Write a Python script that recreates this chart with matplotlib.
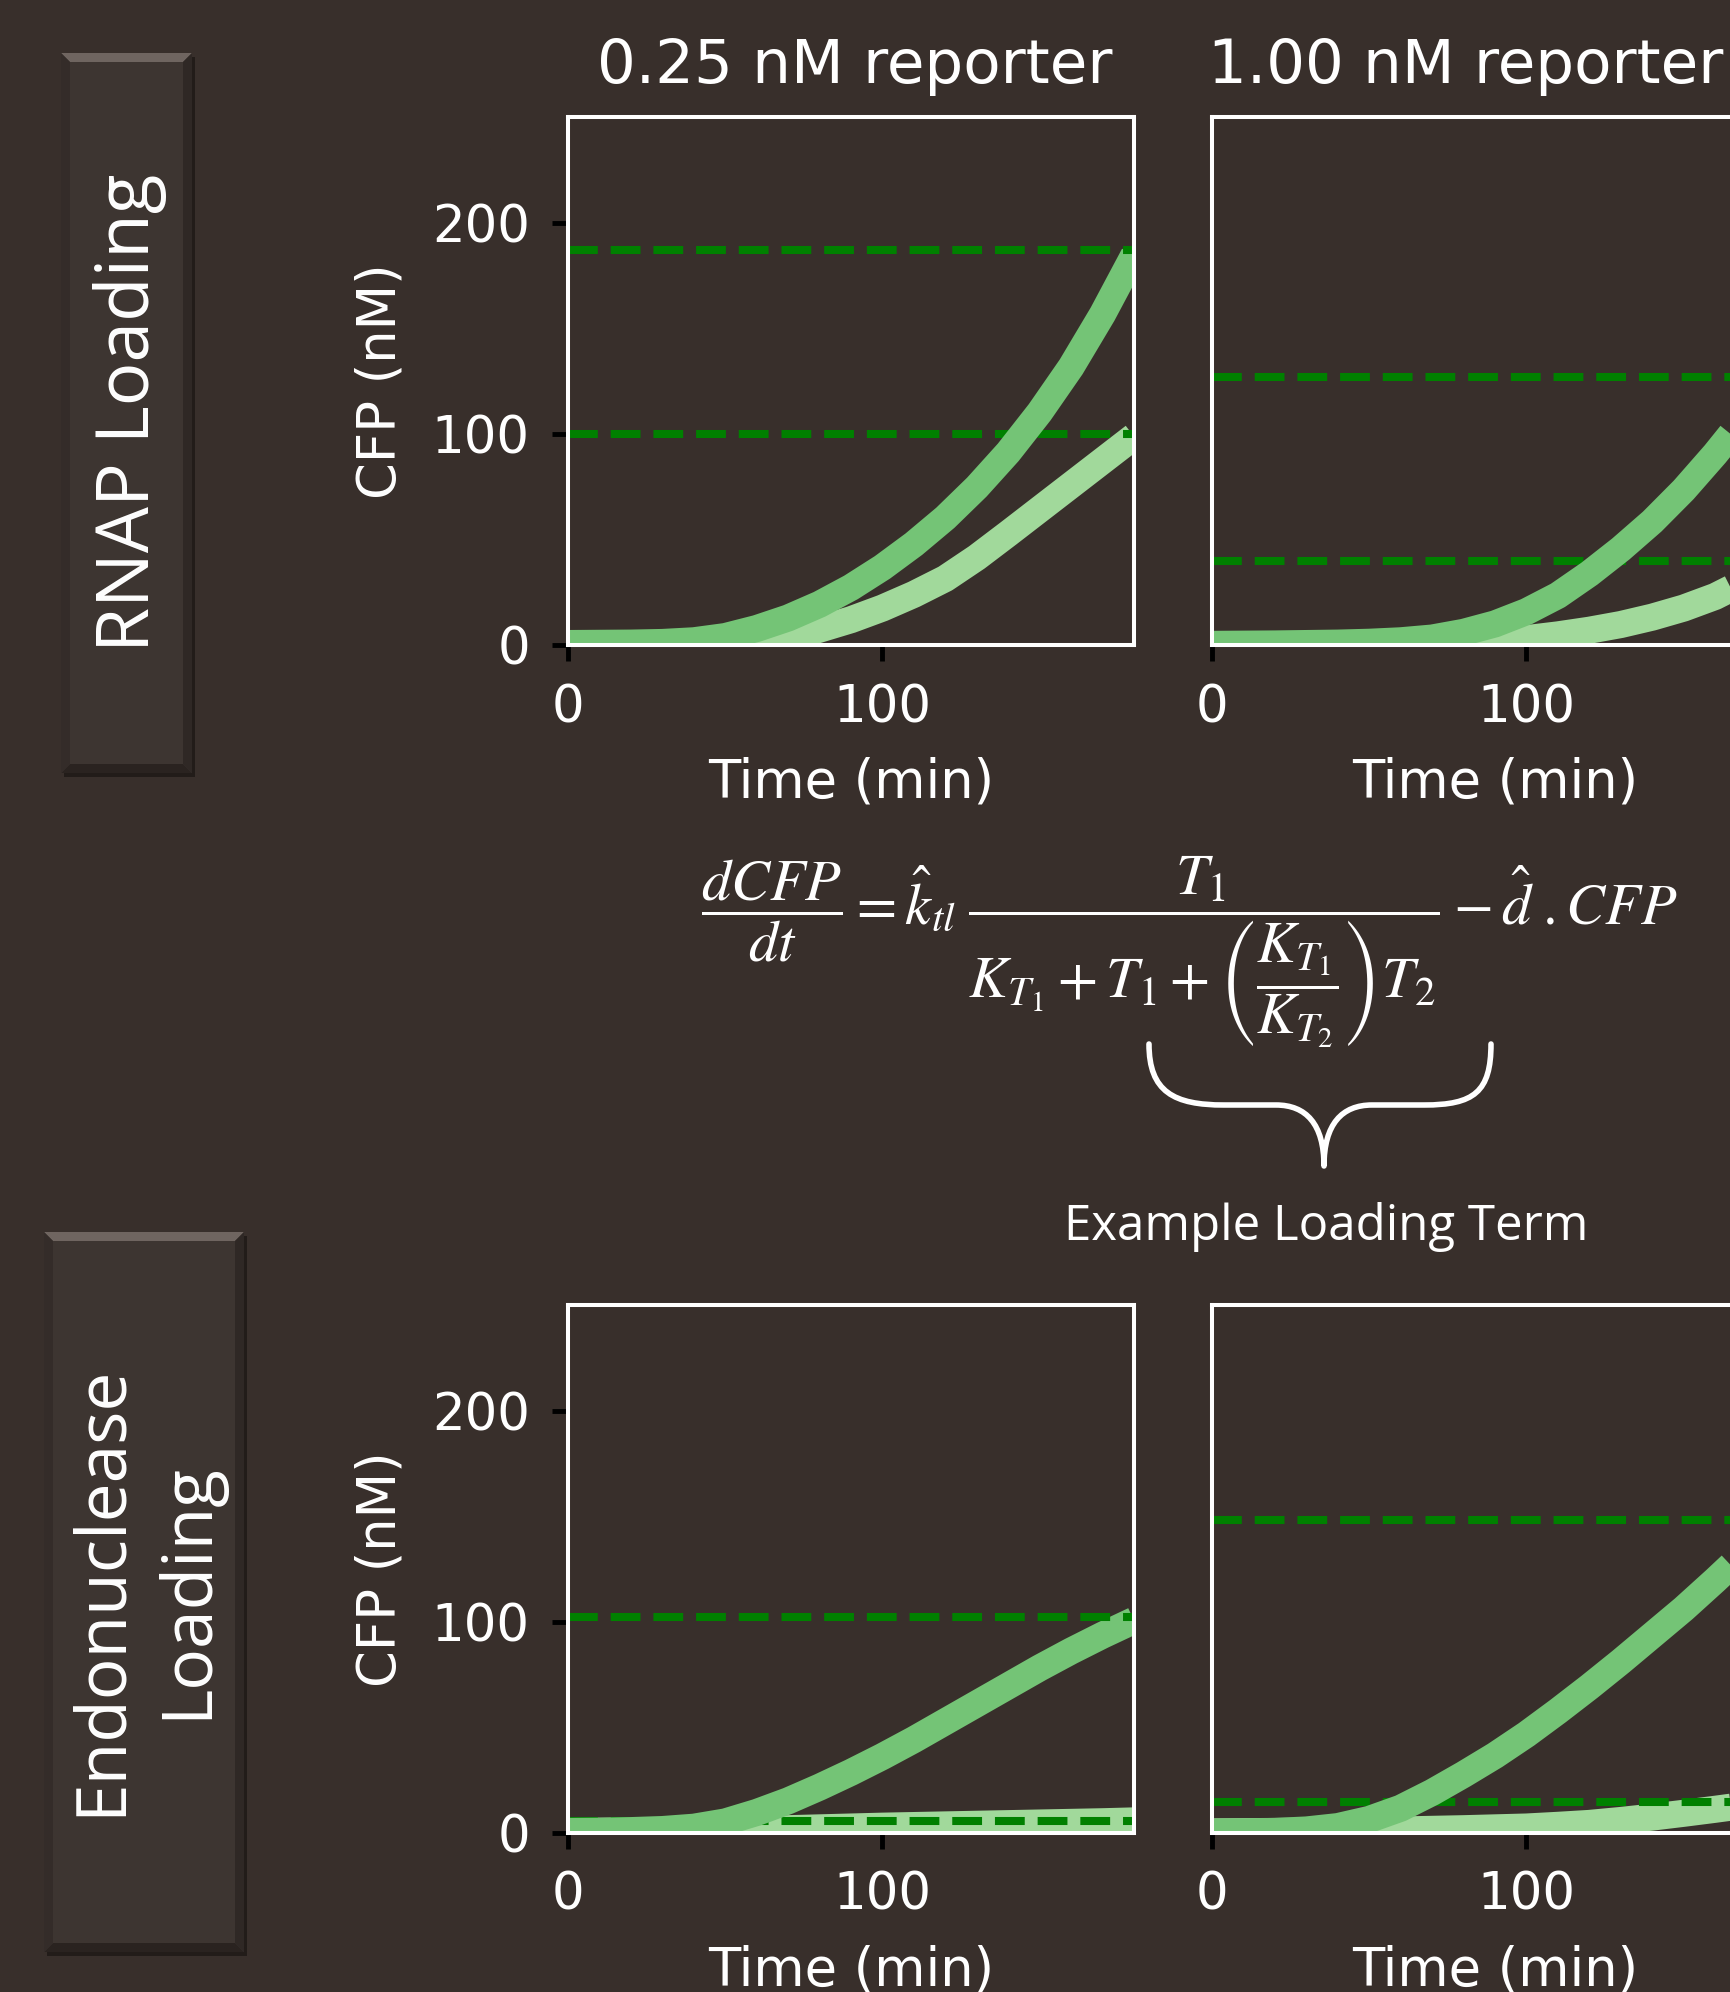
import matplotlib
matplotlib.use("Agg")
import matplotlib.pyplot as plt
from matplotlib.patches import Rectangle, Polygon, PathPatch
from matplotlib.path import Path

W, H = 1731, 1992
BG = "#382f2b"
DARK = "#74c476"
LIGHT = "#a1d99b"
DASH = "#008000"

## simulated CFP curves (nM)
time = [0, 10, 20, 30, 40, 50, 60, 70, 80, 90, 100, 110, 120, 130, 140, 150, 160, 170, 180]

rnap_025_high = [0.7, 0.8, 0.9, 1.2, 2, 4, 7.8, 12.8, 19.3, 27.3, 36.8, 47.8, 60.3, 74.8, 91.3,
                 110.3, 131.8, 156.8, 184.8]
rnap_025_low = [0, 0, 0, 0, 0, 0, 0.5, 3, 7.5, 12, 17.5, 24, 31.5, 41.5, 52.8, 64.3, 75.8, 87.3, 98.8]
rnap_100_high = [0.3, 0.4, 0.5, 0.7, 0.9, 1.3, 2, 3.3, 6, 10, 15.8, 23.5, 33.8, 45.5, 58.5, 73.5,
                 90.5, 109, 128]
rnap_100_low = [0, 0, 0, 0, 0, 0, 0, 0, 0.5, 1.5, 3, 4.8, 7, 9.7, 13.2, 17.5, 23, 30.5, 40]
endo_025_high = [0.5, 0.6, 0.9, 1.4, 2.5, 5, 9.5, 15, 21.5, 28.5, 36, 44, 52.5, 61, 69.5, 78, 86,
                 93.5, 100.5]
endo_025_low = [0.5, 0.6, 0.7, 0.8, 1, 1.2, 1.5, 1.8, 2.2, 2.6, 3, 3.3, 3.6, 3.9, 4.2, 4.5, 4.8,
                5.1, 5.5]
endo_100_high = [0.2, 0.3, 0.5, 1.2, 2.8, 6.2, 11.5, 19, 27.5, 36.5, 46.5, 57.5, 69, 81, 93.5, 106,
                 119.5, 133.5, 148]
endo_100_low = [0.3, 0.4, 0.5, 0.6, 0.8, 1, 1.2, 1.5, 1.8, 2.2, 2.6, 3.4, 4.3, 5.7, 7.3, 9.1, 11,
                13, 15]

## dashed reference levels (high, low)
rnap_025_ref = [187, 100]
rnap_100_ref = [127, 40]
endo_025_ref = [102, 5.3]
endo_100_ref = [148, 14.5]

titles = ["0.25 nM reporter", "1.00 nM reporter"]
row_labels = ["RNAP Loading", "Endonuclease\nLoading"]


def fx(x):
    return x / W


def fy(y):
    return 1 - y / H


fig = plt.figure(figsize=(W / 100, H / 100), dpi=100, facecolor=BG)

ax_w = 566 / W
ax_h = 527.5 / H
lefts = [568, 1212]
bottoms = [645, 1832.5]

panels = [
    (0, 0, rnap_025_high, rnap_025_low, rnap_025_ref),
    (0, 1, rnap_100_high, rnap_100_low, rnap_100_ref),
    (1, 0, endo_025_high, endo_025_low, endo_025_ref),
    (1, 1, endo_100_high, endo_100_low, endo_100_ref),
]

for row, col, hi, lo, ref in panels:
    ax = fig.add_axes([fx(lefts[col]), fy(bottoms[row]), ax_w, ax_h])
    ax.set_facecolor(BG)
    ax.plot(time, lo, color=LIGHT, lw=19.5, solid_capstyle="butt", solid_joinstyle="round")
    ax.axhline(ref[1], color=DASH, lw=5.8, ls="--")
    ax.plot(time, hi, color=DARK, lw=19.5, solid_capstyle="butt", solid_joinstyle="round")
    ax.axhline(ref[0], color=DASH, lw=5.8, ls="--")
    ax.set_xlim(0, 180)
    ax.set_ylim(0, 250)
    ax.set_xticks([0, 100])
    ax.set_yticks([0, 100, 200])
    for s in ax.spines.values():
        s.set_color("white")
        s.set_linewidth(2.9)
    ax.tick_params(direction="out", length=11.5, width=3.5, color="black",
                   labelcolor="white", labelsize=37, pad=16)
    ax.set_xlabel("Time (min)", color="white", fontsize=38, labelpad=17)
    if col == 0:
        ax.set_ylabel("CFP (nM)", color="white", fontsize=38, labelpad=18)
    else:
        ax.tick_params(left=False, labelleft=False)

## column titles
fig.text(fx(855), fy(83), titles[0], color="white", fontsize=44, ha="center", va="baseline")
fig.text(fx(1466), fy(83), titles[1], color="white", fontsize=44, ha="center", va="baseline")


## bevelled row label boxes
def bevel_box(x0, y0, x1, y1, b=9):
    fig.add_artist(Rectangle((fx(x0 + 3), fy(y1 + 4)), (x1 - x0) / W, (y1 - y0) / H,
                             transform=fig.transFigure, facecolor="#221c19", edgecolor="none"))
    fig.add_artist(Rectangle((fx(x0), fy(y1)), (x1 - x0) / W, (y1 - y0) / H,
                             transform=fig.transFigure, facecolor="#3d3531", edgecolor="none"))
    sides = [
        ([(x0, y0), (x1, y0), (x1 - b, y0 + b), (x0 + b, y0 + b)], "#6f6560"),
        ([(x0, y1), (x1, y1), (x1 - b, y1 - b), (x0 + b, y1 - b)], "#2a2320"),
        ([(x0, y0), (x0 + b, y0 + b), (x0 + b, y1 - b), (x0, y1)], "#342c29"),
        ([(x1, y0), (x1 - b, y0 + b), (x1 - b, y1 - b), (x1, y1)], "#2f2825"),
    ]
    for pts, c in sides:
        fig.add_artist(Polygon([(fx(px), fy(py)) for px, py in pts], closed=True,
                               transform=fig.transFigure, facecolor=c, edgecolor="none"))


bevel_box(61, 53, 192, 773)
bevel_box(44, 1232, 244, 1952)

fig.text(fx(130), fy(413), row_labels[0], color="white", fontsize=52.5, family="Open Sans",
         rotation=90, ha="center", va="center")
fig.text(fx(145), fy(1590), row_labels[1], color="white", fontsize=50, family="Open Sans",
         rotation=90, ha="center", va="center", multialignment="center", linespacing=1.3)

## model equation
eq = (r"$\dfrac{dCFP}{dt} = \hat{k}_{tl}\;\dfrac{T_1}{K_{T_1} + T_1 + "
      r"\left(\dfrac{K_{T_1}}{K_{T_2}}\right)T_2} - \hat{d}\;.CFP$")
fig.text(fx(1189), fy(952), eq, color="white", fontsize=42, math_fontfamily="stix",
         ha="center", va="center")

## curly brace under the loading term
brace_px = [
    ((1149, 1044), Path.MOVETO),
    ((1149, 1092), Path.CURVE4), ((1174, 1105), Path.CURVE4), ((1224, 1105), Path.CURVE4),
    ((1276, 1105), Path.LINETO),
    ((1306, 1105), Path.CURVE4), ((1324, 1124), Path.CURVE4), ((1324, 1166), Path.CURVE4),
    ((1324, 1124), Path.CURVE4), ((1342, 1105), Path.CURVE4), ((1372, 1105), Path.CURVE4),
    ((1424, 1105), Path.LINETO),
    ((1474, 1105), Path.CURVE4), ((1491, 1092), Path.CURVE4), ((1491, 1044), Path.CURVE4),
]
brace = Path([(fx(p[0]), fy(p[1])) for p, _ in brace_px], [c for _, c in brace_px])
fig.add_artist(PathPatch(brace, transform=fig.transFigure, facecolor="none",
                         edgecolor="white", lw=4, capstyle="round", joinstyle="round"))

fig.text(fx(1326), fy(1227), "Example Loading Term", color="white", fontsize=35.5,
         family="Open Sans", ha="center", va="center")

fig.savefig("out.png", dpi=100, facecolor=BG)
